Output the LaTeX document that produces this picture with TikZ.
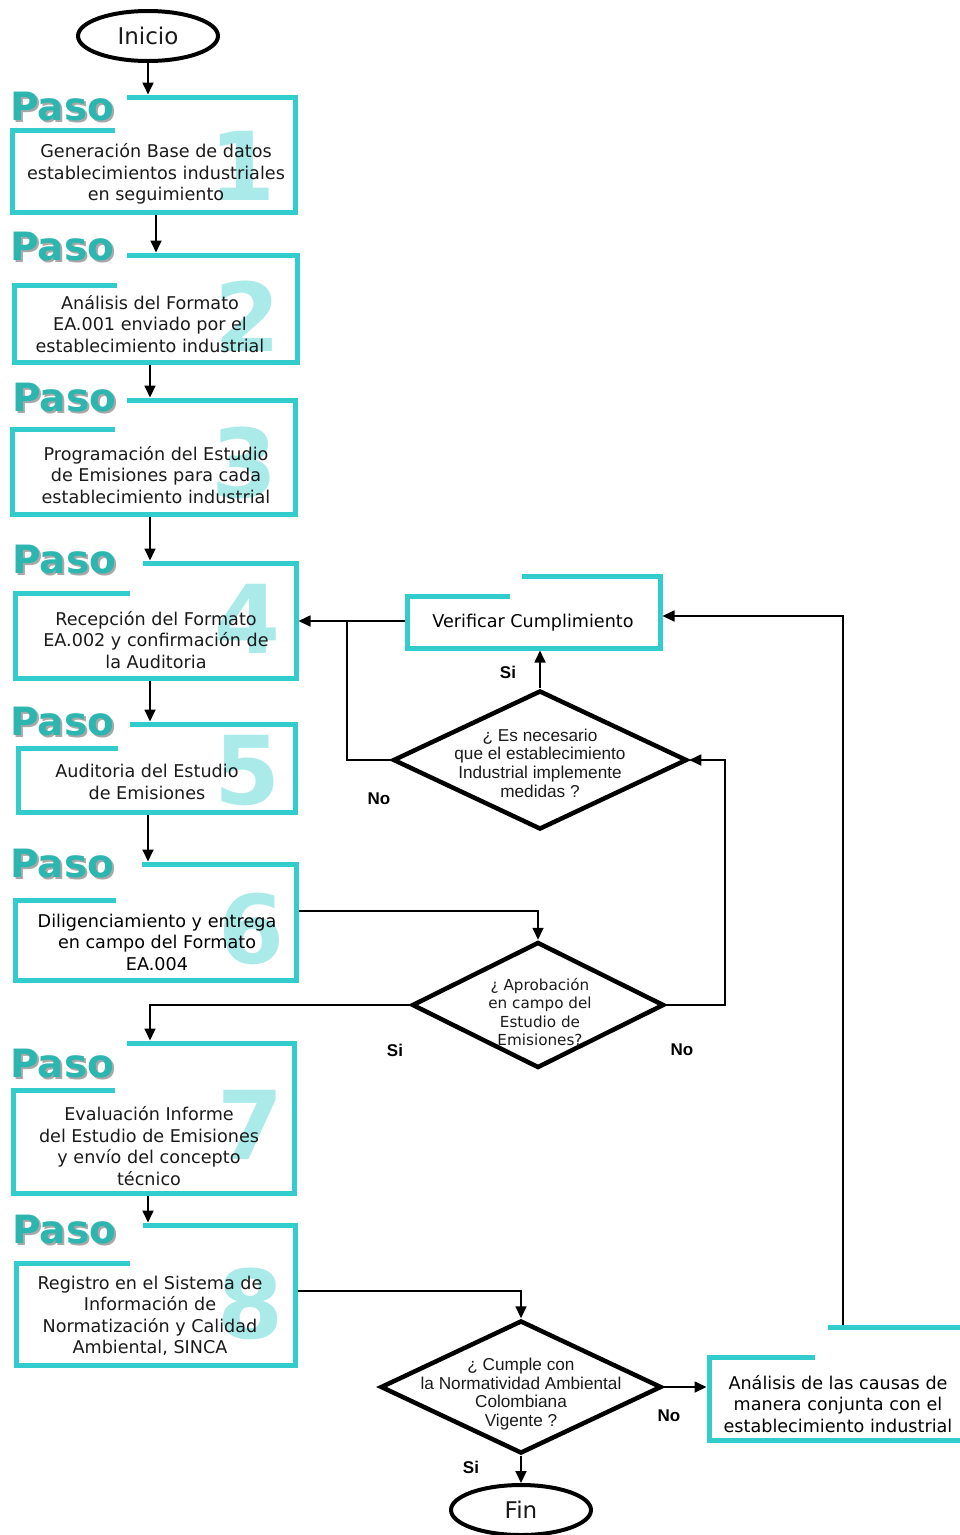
\documentclass[tikz,border=0pt]{standalone}
\usepackage{fontspec}
\setmainfont{DejaVu Sans}
\newfontfamily\lsans{Liberation Sans}
\usetikzlibrary{shapes.geometric,arrows.meta}
\definecolor{frameteal}{HTML}{33CCCC}
\definecolor{pasoteal}{HTML}{2DB6AF}
\definecolor{digitteal}{HTML}{AAEBEA}
\definecolor{shadowgray}{HTML}{A8A8A8}
\definecolor{txt}{HTML}{1A1A1A}
% #1 name, #2 x1, #3 ytop, #4 x2, #5 ybot, #6 yseg, #7 xtopstart, #8 xsegend
\newcommand{\pasoframe}[8]{%
  \node[area, minimum width={(#4-#2)*1pt}, minimum height={(#5-#3)*1pt}] (#1) at ({(#2+#4)/2},{(#3+#5)/2}) {};
  \draw[frame] (#7,#3) -- (#4,#3) -- (#4,#5) -- (#2,#5) -- (#2,#6) -- (#8,#6);
}
% #1 name, #2 x, #3 baseline y
\newcommand{\pasolabel}[3]{%
  \node[paso, text=shadowgray] (#1s) at (#2+2,#3+2) {Paso};
  \node[paso] (#1) at (#2,#3) {Paso};
}
\begin{document}
\begin{tikzpicture}[x=1pt,y=-1pt,line join=miter,
  frame/.style={draw=frameteal, line width=5pt, line cap=butt},
  area/.style={rectangle, inner sep=0pt, outer sep=2.5pt},
  body/.style={align=center, text=txt, font=\fontsize{17.6}{21.5}\selectfont, inner sep=0pt},
  paso/.style={anchor=base west, text=pasoteal, font=\fontsize{39}{39}\selectfont\bfseries, inner sep=0pt},
  digit/.style={text=digitteal, font=\fontsize{95}{95}\selectfont\bfseries, inner sep=0pt},
  arr/.style={-{Triangle[length=12pt,width=11pt]}, line width=1.7pt},
  conn/.style={line width=1.7pt},
  term/.style={ellipse, draw, line width=4pt, minimum width=140pt, minimum height=50pt, inner sep=0pt, text=txt, font=\fontsize{23}{23}\selectfont},
  dia/.style={diamond, draw, line width=4.5pt, inner sep=0pt},
  qtext/.style={align=center, text=txt, font=\lsans\fontsize{17.2}{18.6}\selectfont, inner sep=0pt},
  qtextv/.style={align=center, text=txt, font=\fontsize{15.2}{18.6}\selectfont, inner sep=0pt},
  lab/.style={font=\lsans\bfseries\fontsize{17}{17}\selectfont, inner sep=0pt}]
\useasboundingbox (0,0) rectangle (960,1535);

% terminals
\node[term] (inicio) at (148,36) {Inicio};
\node[term] (fin) at (521,1510) {Fin};

% step frames
\pasoframe{b1}{12}{97}{295}{212}{130}{127}{115}
\pasoframe{b2}{14}{255}{297}{362}{285}{127}{117}
\pasoframe{b3}{12}{400}{295}{514}{429}{127}{115}
\pasoframe{b4}{15}{563}{296}{678}{593}{143}{130}
\pasoframe{b5}{18}{724}{295}{812}{748}{130}{118}
\pasoframe{b6}{15}{864}{296}{980}{900}{142}{116}
\pasoframe{b7}{13}{1043}{294}{1193}{1090}{127}{115}
\pasoframe{b8}{16}{1225}{295}{1365}{1263}{143}{130}
\pasoframe{ver}{407}{576}{660}{648}{596}{522}{510}
% analysis box (right edge beyond the page)
\node[area, minimum width=251pt, minimum height=113pt] (an) at (834.5,1383.5) {};
\draw[frame] (828,1327) -- (960,1327);
\draw[frame] (815,1357) -- (709,1357) -- (709,1440) -- (960,1440);

% Paso labels
\pasolabel{p1}{10}{120}
\pasolabel{p2}{10}{260}
\pasolabel{p3}{12}{411}
\pasolabel{p4}{12}{573}
\pasolabel{p5}{10}{735}
\pasolabel{p6}{10}{877}
\pasolabel{p7}{10}{1077}
\pasolabel{p8}{12}{1243}

% big digits
\node[digit] (n1) at (243,166) {1};
\node[digit] (n2) at (248,316) {2};
\node[digit] (n3) at (245,463) {3};
\node[digit] (n4) at (248,619) {4};
\node[digit] (n5) at (248,771) {5};
\node[digit] (n6) at (252,929) {6};
\node[digit] (n7) at (251,1125) {7};
\node[digit] (n8) at (251,1304) {8};

% step texts
\node[body] (t1) at (156,174) {Generación Base de datos\\establecimientos industriales\\en seguimiento};
\node[body] (t2) at (150,324) {Análisis del Formato\\EA.001 enviado por el\\establecimiento industrial};
\node[body] (t3) at (156,475) {Programación del Estudio\\de Emisiones para cada\\establecimiento industrial};
\node[body] (t4) at (156,640) {Recepción del Formato\\EA.002 y confirmación de\\la Auditoria};
\node[body] (t5) at (147,782) {Auditoria del Estudio\\de Emisiones};
\node[body, text=black] (t6) at (157,942) {Diligenciamiento y entrega\\en campo del Formato\\EA.004};
\node[body] (t7) at (149,1146) {Evaluación Informe\\del Estudio de Emisiones\\y envío del concepto\\técnico};
\node[body] (t8) at (150,1316) {Registro en el Sistema de\\Información de\\Normatización y Calidad\\Ambiental, SINCA};
\node[body, text=black] (tver) at (533,623) {Verificar Cumplimiento};
\node[body, text=black] (tan) at (838,1404) {Análisis de las causas de\\manera conjunta con el\\establecimiento industrial};

% decisions
\node[dia, minimum width=294pt, minimum height=139pt] (d1) at (540,760) {};
\node[qtext] (q1) at (540,763) {¿ Es necesario\\que el establecimiento\\Industrial implemente\\medidas ?};
\node[dia, minimum width=252pt, minimum height=126pt] (d2) at (538,1005) {};
\node[qtextv] (q2) at (540,1012) {¿ Aprobación\\en campo del\\Estudio de\\Emisiones?};
\node[dia, minimum width=281pt, minimum height=133pt] (d3) at (521,1387) {};
\node[qtext] (q3) at (521,1394) {¿ Cumple con\\la Normatividad Ambiental\\Colombiana\\Vigente ?};

% connectors
\draw[arr] (inicio.south) -- (inicio.south |- b1.north);
\draw[arr] (b1.south -| 156,0) -- (b2.north -| 156,0);
\draw[arr] (b2.south -| 150,0) -- (b3.north -| 150,0);
\draw[arr] (b3.south -| 150,0) -- (b4.north -| 150,0);
\draw[arr] (b4.south -| 150,0) -- (b5.north -| 150,0);
\draw[arr] (b5.south -| 148,0) -- (b6.north -| 148,0);
\draw[arr] (b7.south -| 148,0) -- (b8.north -| 148,0);
\draw[arr] (b6.east |- 0,911) -| (d2.north);
\draw[arr] (d2.west) -| (b7.north -| 150,0);
\draw[arr] (d2.east) -- (d2.east -| 725,0) -- (d1.east -| 725,0) -- (d1.east);
\draw[arr] (d1.north) -- (ver.south -| d1.north);
\draw[conn] (d1.west) -- (d1.west -| 347,0) -- (347,621);
\draw[arr] (ver.west |- 0,621) -- (b4.east |- 0,621);
\draw[arr] (b8.east |- 0,1291) -| (d3.north);
\draw[arr] (d3.east) -- (an.west |- d3.east);
\draw[arr] (d3.south) -- (fin.north);
\draw[arr] (an.north -| 843,0) -- (843,616) -- (ver.east |- 0,616);

% labels
\node[lab] (l1) at (508,672) {Si};
\node[lab] (l2) at (379,799) {No};
\node[lab] (l3) at (395,1050) {Si};
\node[lab] (l4) at (682,1050) {No};
\node[lab] (l5) at (669,1416) {No};
\node[lab] (l6) at (471,1467) {Si};
\end{tikzpicture}
\end{document}
